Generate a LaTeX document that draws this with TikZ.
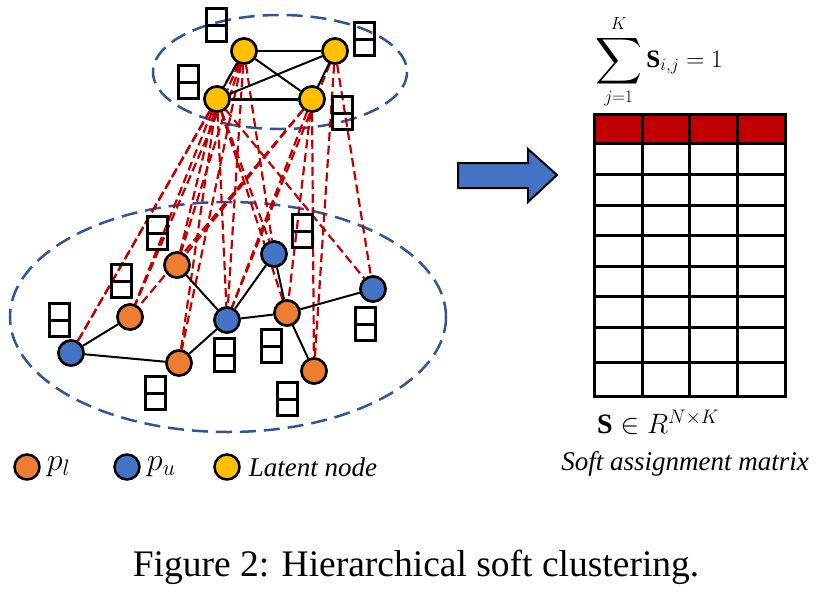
\RequirePackage{fix-cm}
\documentclass[tikz,border=0pt]{standalone}
\usepackage{amsmath,amssymb}
\usepackage{fontspec}
\setmainfont{Liberation Serif}
\usetikzlibrary{arrows,calc}
\definecolor{plorange}{HTML}{ED7D31}
\definecolor{publue}{HTML}{4472C4}
\definecolor{latyellow}{HTML}{FFC000}
\definecolor{softred}{HTML}{C00000}
\definecolor{ringblue}{HTML}{2F5597}
\tikzset{
  latent/.style={circle, draw, line width=2.5pt, fill=latyellow, minimum size=25pt, inner sep=0pt},
  plnode/.style={latent, fill=plorange},
  punode/.style={latent, fill=publue},
  edgeline/.style={line width=2pt},
  softlink/.style={softred, line width=2.2pt, dash pattern=on 9pt off 4.5pt},
  clusterring/.style={ringblue, line width=2.5pt, dash pattern=on 16pt off 8pt},
  featbox/.style={draw, line width=3pt, minimum width=20pt, minimum height=33pt, inner sep=0pt,
    path picture={\draw[line width=3pt] (path picture bounding box.west) -- (path picture bounding box.east);}},
  gridline/.style={line width=3pt}
}
\newcommand{\bigtxt}{\fontsize{27}{32}\selectfont}
\newcommand{\mathtxt}{\fontsize{32}{36}\selectfont}
\begin{document}
\begin{tikzpicture}[x=1pt,y=-1pt]
\useasboundingbox (0,0) rectangle (824,592);
% clusters
\draw [clusterring] (280,72) ellipse [x radius=127, y radius=57];
\draw [clusterring] (228,317) ellipse [x radius=218, y radius=115];
% latent nodes
\node [latent] (l1) at (244,51) {};
\node [latent] (l2) at (335,51) {};
\node [latent] (l3) at (217,99) {};
\node [latent] (l4) at (312,99) {};
% graph nodes
\node [punode] (u1) at (71,353) {};
\node [plnode] (p1) at (130,317) {};
\node [plnode] (p2) at (177,265) {};
\node [punode] (u2) at (227,320) {};
\node [plnode] (p3) at (179,363) {};
\node [punode] (u3) at (274,254) {};
\node [plnode] (p4) at (287,313) {};
\node [punode] (u4) at (373,289) {};
\node [plnode] (p5) at (314,371) {};
% soft assignments
\foreach \a/\b in {l1/u1,l1/p1,l1/p2,l1/u2,l1/p3,l1/u3,
  l3/u1,l3/p1,l3/p2,l3/u2,l3/p3,l3/u3,l3/p4,l3/u4,
  l4/p1,l4/p2,l4/u2,l4/p4,l4/p5,
  l2/u2,l2/p5,l2/u4}
  \draw [softlink] (\a) -- (\b);
% edges
\foreach \a/\b in {l1/l2,l1/l3,l1/l4,l2/l3,l2/l4}
  \draw [edgeline] (\a) -- (\b);
\draw [edgeline, line width=3pt] (l3) -- (l4);
\foreach \a/\b in {u1/p1,u1/p3,p2/u2,p3/u2,u2/u3,u2/p4,u3/p4,p4/u4,p4/p5}
  \draw [edgeline] (\a) -- (\b);
% redraw nodes on top
\foreach \n/\s in {l1/latent,l2/latent,l3/latent,l4/latent,u1/punode,p1/plnode,p2/plnode,u2/punode,p3/plnode,u3/punode,p4/plnode,u4/punode,p5/plnode}
  \node [\s] at (\n) {};
% features
\foreach \x/\y [count=\i] in {216/25,364/39,188/82,342/113,157/233,121/281,59/320,302/231,224/355,271/346,365/324,155/393,287/399}
  \node [featbox] (f\i) at (\x,\y) {};
% legend
\node [plnode] (kl) at (27,467) {};
\node [anchor=west, inner sep=0pt] (tl) at ([xshift=6pt]kl.east) {\mathtxt $p_l$};
\node [punode] (ku) at (127,467) {};
\node [anchor=west, inner sep=0pt] (tu) at ([xshift=6pt]ku.east) {\mathtxt $p_u$};
\node [latent] (kz) at (227,467) {};
\node [anchor=west, inner sep=0pt] (tz) at ([xshift=8pt]kz.east) {\bigtxt\itshape Latent node};
% arrow
\draw [line width=2pt, fill=publue] (458,163)--(528,163)--(528,149)--(557,175)--(528,202)--(528,188)--(458,188)--cycle;
% assignment matrix
\fill [softred] (594,114) rectangle (785,143);
\foreach \x in {642,689,737}
  \draw [gridline] (\x,114) -- (\x,396);
\foreach \y in {143,174,205,235,266,296,327,362}
  \draw [gridline] (594,\y) -- (785,\y);
\draw [gridline] (594,114) rectangle (785,396);
\node [anchor=west, inner sep=0pt] (rowsum) at (595,62) {\fontsize{25}{30}\selectfont $\displaystyle\mathop{\vcenter{\hbox{\scalebox{1.3}{$\displaystyle\sum$}}}}\limits_{j=1}^{K}\mathbf{S}_{i,j}=1$};
\node [anchor=west, inner sep=0pt] (sdef) at (597,422) {\fontsize{28}{32}\selectfont $\mathbf{S}\in R^{N\times K}$};
\node (mname) at (685,464) {\bigtxt\itshape Soft assignment matrix};
% caption
\node (cap) at (416,567) {\fontsize{37.5}{44}\selectfont Figure 2: Hierarchical soft clustering.};
\end{tikzpicture}
\end{document}
